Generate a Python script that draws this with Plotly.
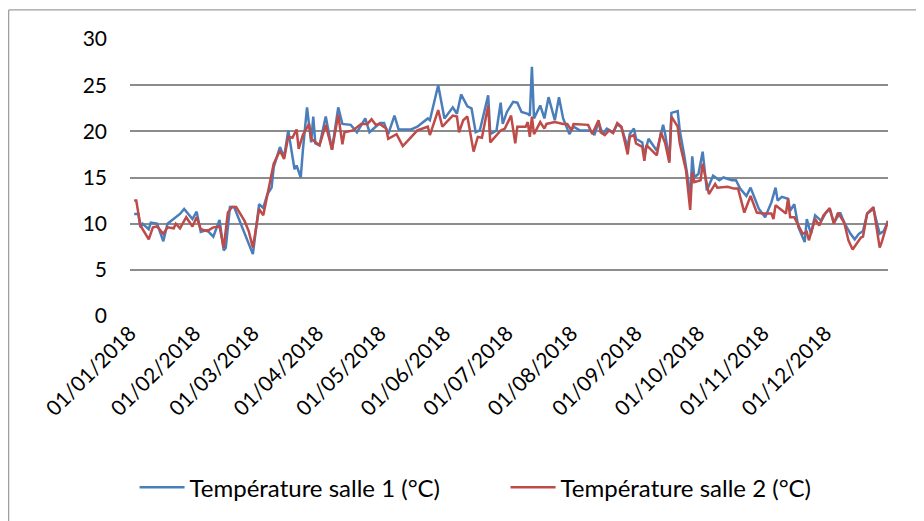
import pandas as pd
import plotly.graph_objects as go

# jour de l'annee (0 = 01/01/2018) et temperature
jours_salle1 = [2, 4, 5, 6, 9, 10, 13, 16, 18, 21, 24, 26, 30, 32, 34, 37, 40, 43, 45, 46,
                48, 50, 59, 62, 64, 66, 68, 69, 72, 74, 76, 79, 80, 82, 83, 85, 87, 88, 89, 91,
                94, 97, 100, 102, 106, 109, 113, 115, 117, 119, 120, 122, 124, 127, 129, 135, 138, 143, 144, 148,
                151, 152, 155, 157, 159, 162, 164, 166, 168, 172, 173, 176, 178, 179, 181, 184, 186, 188, 191, 192,
                193, 194, 197, 199, 201, 204, 206, 208, 211, 213, 216, 221, 223, 225, 227, 229, 232, 234, 236, 239,
                240, 242, 243, 246, 247, 249, 253, 256, 257, 259, 260, 263, 264, 266, 268, 269, 270, 271, 273, 275,
                277, 280, 283, 285, 289, 291, 293, 296, 298, 302, 305, 308, 310, 311, 313, 316, 317, 319, 321, 324,
                325, 327, 329, 332, 334, 336, 338, 341, 343, 346, 348, 350, 352, 354, 357, 360, 362, 364]
temp_salle1 = [11.05, 11.05, 9.6, 10.0, 9.4, 10.1, 10.0, 8.1, 10.0, 10.5, 11.05, 11.6, 10.5, 11.3, 9.1, 9.3, 8.6, 10.4, 7.1, 7.4,
               11.8, 11.8, 6.7, 12.1, 11.7, 13.2, 13.9, 16.1, 18.3, 17.2, 20.1, 15.9, 16.3, 15.0, 17.9, 22.6, 18.8, 21.6, 18.7, 18.5,
               21.6, 18.0, 22.6, 20.8, 20.7, 19.9, 21.4, 19.9, 20.3, 20.8, 20.9, 20.9, 19.7, 21.7, 20.2, 20.2, 20.5, 21.4, 21.2, 25.0,
               21.4, 21.7, 22.6, 21.9, 24.0, 22.7, 22.5, 19.9, 20.1, 23.9, 19.7, 20.1, 23.1, 20.8, 22.1, 23.2, 23.1, 22.1, 21.9, 21.7,
               27.0, 21.4, 22.8, 21.4, 23.7, 21.2, 23.7, 21.4, 19.7, 20.5, 20.1, 20.1, 19.6, 21.0, 19.7, 20.3, 19.9, 20.8, 20.4, 18.3,
               19.7, 20.3, 19.2, 18.8, 17.4, 19.2, 17.9, 20.7, 19.7, 16.8, 22.0, 22.2, 20.1, 17.6, 14.7, 12.5, 17.3, 15.0, 15.4, 17.8,
               13.6, 15.2, 14.7, 15.0, 14.7, 14.7, 13.8, 13.0, 13.9, 11.6, 10.7, 12.3, 13.9, 12.5, 12.9, 12.7, 11.4, 12.1, 9.6, 8.0,
               10.5, 8.9, 10.9, 10.3, 11.1, 11.6, 10.1, 11.2, 10.1, 8.9, 8.3, 8.9, 9.2, 11.1, 11.6, 8.9, 9.2, 10.3]

jours_salle2 = [2, 3, 5, 7, 9, 11, 13, 16, 18, 21, 22, 24, 27, 30, 32, 34, 37, 40, 43, 45,
                47, 49, 51, 55, 57, 59, 62, 64, 66, 69, 72, 74, 76, 78, 80, 81, 83, 86, 87, 91,
                94, 97, 100, 102, 103, 107, 111, 114, 116, 118, 120, 123, 124, 128, 131, 135, 138, 143, 144, 148,
                150, 152, 155, 157, 158, 160, 162, 165, 167, 169, 172, 173, 176, 178, 180, 183, 185, 186, 190, 191,
                192, 193, 194, 197, 199, 200, 204, 208, 210, 212, 213, 218, 220, 222, 225, 226, 228, 230, 232, 234,
                236, 239, 240, 242, 243, 246, 247, 248, 253, 255, 257, 259, 260, 263, 264, 267, 269, 270, 271, 274,
                275, 278, 281, 282, 287, 290, 292, 295, 298, 301, 304, 308, 309, 310, 315, 316, 317, 319, 323, 325,
                326, 329, 331, 333, 336, 338, 340, 343, 345, 347, 351, 352, 354, 357, 360, 361, 364]
temp_salle2 = [12.5, 12.5, 9.8, 9.1, 8.3, 9.6, 9.7, 8.9, 9.6, 9.5, 10.0, 9.5, 10.7, 9.7, 10.7, 9.4, 9.2, 9.6, 9.7, 7.4,
               11.2, 11.8, 11.8, 10.3, 9.2, 7.4, 11.6, 10.9, 13.2, 16.5, 17.9, 17.0, 19.4, 19.3, 20.2, 18.1, 19.6, 20.8, 19.2, 18.5,
               20.7, 18.0, 21.8, 18.6, 19.9, 20.1, 20.8, 20.8, 21.3, 20.7, 20.8, 20.3, 19.2, 19.7, 18.4, 19.4, 20.1, 20.5, 19.6, 22.3,
               20.5, 21.0, 21.7, 21.6, 19.9, 21.2, 21.6, 17.8, 19.4, 19.3, 22.8, 18.8, 19.6, 20.1, 20.3, 21.7, 18.7, 20.5, 20.5, 21.0,
               19.4, 21.6, 19.7, 21.0, 20.3, 20.8, 21.0, 20.8, 20.8, 20.1, 20.8, 20.7, 20.7, 19.7, 21.2, 19.9, 19.6, 20.1, 19.8, 20.9,
               20.5, 17.5, 19.4, 19.6, 18.7, 18.3, 16.8, 18.5, 17.4, 19.9, 18.7, 16.6, 21.6, 20.5, 18.7, 15.8, 11.5, 15.6, 14.5, 14.7,
               16.5, 13.2, 14.3, 13.9, 14.0, 13.8, 13.8, 11.2, 13.0, 11.2, 11.1, 11.1, 10.5, 12.0, 11.1, 12.7, 10.7, 10.7, 8.9, 9.1,
               8.2, 10.5, 9.8, 10.9, 11.7, 10.0, 11.2, 10.1, 8.2, 7.2, 8.5, 8.6, 11.1, 11.8, 7.4, 8.0, 10.3]

mois = ["01/01/2018", "01/02/2018", "01/03/2018", "01/04/2018", "01/05/2018", "01/06/2018",
        "01/07/2018", "01/08/2018", "01/09/2018", "01/10/2018", "01/11/2018", "01/12/2018"]

debut = pd.Timestamp("2018-01-01")
dates1 = debut + pd.to_timedelta(jours_salle1, unit="D")
dates2 = debut + pd.to_timedelta(jours_salle2, unit="D")
ticks = pd.to_datetime(mois, format="%d/%m/%Y")

fig = go.Figure()
fig.add_trace(go.Scatter(x=dates1, y=temp_salle1, mode="lines",
                         name="Température salle 1 (°C)",
                         line=dict(color="#4a7ebb", width=2.5)))
fig.add_trace(go.Scatter(x=dates2, y=temp_salle2, mode="lines",
                         name="Température salle 2 (°C)",
                         line=dict(color="#be4b48", width=2.5)))

fig.update_xaxes(range=["2018-01-01", "2018-12-31"], tickvals=ticks, ticktext=mois,
                 tickangle=-45, showgrid=False, zeroline=False, showline=False,
                 ticks="", automargin=False, tickfont=dict(size=21, color="black"))
fig.update_yaxes(range=[0, 30], dtick=5, showgrid=True, gridcolor="#8c8c8c", gridwidth=1.5,
                 zeroline=False, showline=False, ticks="", ticklabelstandoff=22,
                 automargin=False, tickfont=dict(size=21, color="black"))

# cadre du graphique (bord gauche et haut, le reste sort de l'image)
fig.add_shape(type="rect", xref="paper", yref="paper",
              x0=-0.16, x1=1.2, y0=-1.0, y1=1.105,
              line=dict(color="#868686", width=1), layer="below")

# la page html decale la figure de 8 px : marges compensees
fig.update_layout(
    width=924, height=521,
    margin=dict(l=122, r=44, t=31, b=213),
    font=dict(family="Lato", color="black"),
    plot_bgcolor="white", paper_bgcolor="white",
    showlegend=True,
    legend=dict(orientation="h", x=0.006, xanchor="left", y=-0.62, yanchor="middle",
                font=dict(size=24), itemwidth=45, entrywidth=311),
)

fig.write_html("out.html")
